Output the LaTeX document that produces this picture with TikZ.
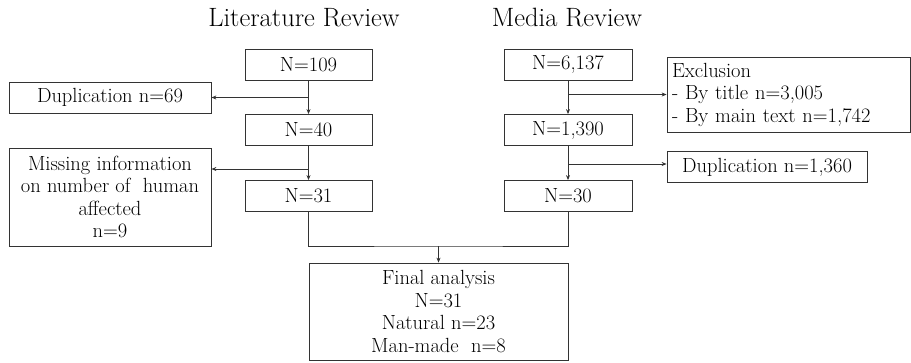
\documentclass[tikz,border=0pt]{standalone}
\usepackage{tikz}
\usetikzlibrary{arrows.meta}
\tikzset{box/.style = {draw = black!80, line width = 0.8pt, minimum height = 31pt, inner sep = 2pt, align = center, font = \fontsize{20.5}{22.5}\selectfont},
         link/.style = {draw = black!80, line width = 0.8pt, -{Stealth[length = 5pt, width = 4pt]}},
         title/.style = {font = \fontsize{26.5}{30}\selectfont}}

\begin{document}
\begin{tikzpicture} [x = 1pt, y = -1pt]
\useasboundingbox (0, 0) rectangle (911, 362);
% column titles
\node[title] (littitle) at (304, 18){Literature Review};
\node[title] (medtitle) at (567, 18){Media Review};
% literature review column
\node[box, minimum width = 127pt] (lit1) at (308.5, 64.5){N=109};
\node[box, minimum width = 127pt] (lit2) at (308.5, 130.0){N=40};
\node[box, minimum width = 127pt] (lit3) at (308.5, 196.0){N=31};
\node[box, minimum width = 202pt] (dup1) at (110.0, 97.5){Duplication n=69};
\node[box, minimum width = 202pt, minimum height = 98pt] (miss) at (110.0, 197.0){Missing information\\on number of~ human\\affected\\n=9};
% media review column
\node[box, minimum width = 128pt] (med1) at (568.0, 64.5){N=6,137};
\node[box, minimum width = 128pt] (med2) at (568.0, 130.0){N=1,390};
\node[box, minimum width = 128pt] (med3) at (568.0, 196.0){N=30};
\node[box, minimum width = 243pt, minimum height = 75pt, align = left, text width = 233pt, inner xsep = 5pt] (excl) at (788.5, 94.5){Exclusion\\- By title n=3,005\\- By main text n=1,742};
\node[box, minimum width = 200pt] (dup2) at (767.0, 167.0){Duplication n=1,360};
% final box
\node[box, minimum width = 259pt, minimum height = 97pt] (final) at (438.5, 311.5){Final analysis\\N=31\\Natural n=23\\Man-made~ n=8};
% connectors
\coordinate (litcut) at (308.5, 169);
\coordinate (medcut) at (568.0, 164);
\coordinate (merge) at (438.5, 246);
\draw[link] (lit1) -- (lit2);
\draw[link] (lit2) -- (lit3);
\draw[link] (dup1.east -| lit1.south) -- (dup1.east);
\draw[link] (litcut) -- (litcut -| miss.east);
\draw[link] (med1) -- (med2);
\draw[link] (med2) -- (med3);
\draw[link] (excl.west -| med1.south) -- (excl.west);
\draw[link] (medcut) -- (medcut -| dup2.west);
\draw[draw = black!80, line width = 0.8pt] (lit3.south) |- (merge) -| (med3.south);
\draw[link] (merge) -- (final.north);
\end{tikzpicture}
\end{document}
